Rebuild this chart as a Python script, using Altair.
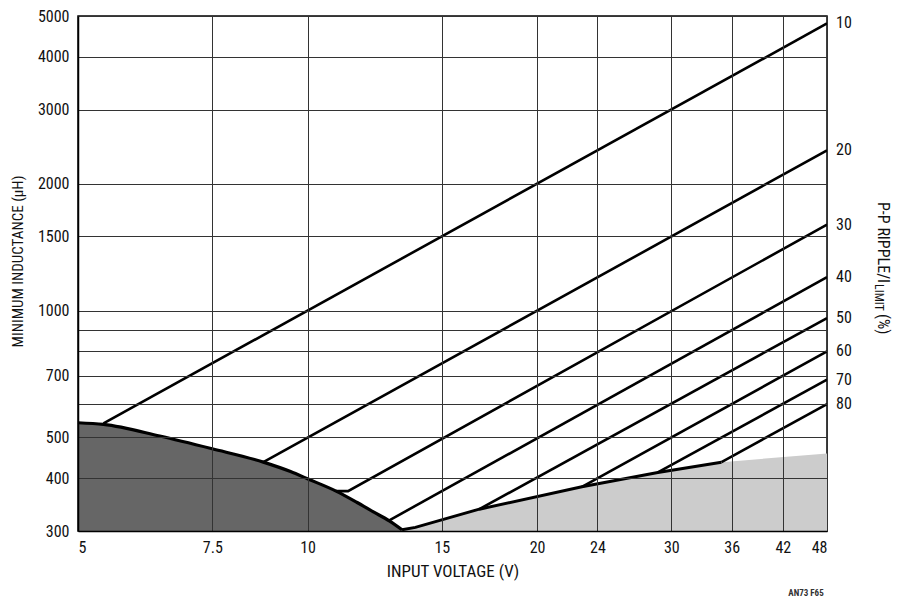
import pandas as pd
import altair as alt

FONT = "Liberation Sans Narrow, Roboto Condensed, Arial Narrow, Liberation Sans, sans-serif"

x_ticks = [5, 7.5, 10, 15, 20, 24, 30, 36, 42, 48]
y_grid = [300, 400, 500, 600, 700, 800, 900, 1000, 1500, 2000, 3000, 4000, 5000]

# dark region: low input voltage limit
dark_v = [5, 5.4, 6.4, 7.5, 8.75, 9.5, 10, 10.9, 11.6, 12.2, 12.8, 13.3]
dark_l = [542, 537, 504, 470, 437, 415, 399, 373, 351, 333, 317, 302]

# light region: upper edge (black edge drawn up to 34.9 V)
light_v = [13.3, 13.85, 16.8, 22.9, 28.8, 34.9, 48]
light_l = [302, 306, 338, 382, 413, 437, 458]

# ripple curves, % of I_LIMIT
ripple = ["10", "20", "30", "40", "50", "60", "70", "80"]
ripple_v = [[5.4, 48], [8.75, 48], [10.9, 11.3, 48], [12.8, 48],
            [16.8, 48], [22.9, 48], [28.8, 48], [34.9, 48]]
ripple_l = [[540, 4800], [437, 2400], [373, 373, 1600], [318, 1200],
            [338, 960], [382, 800], [413, 686], [437, 600]]

rows = []
for name, vs, ls in zip(ripple, ripple_v, ripple_l):
    for i, (v, l) in enumerate(zip(vs, ls)):
        rows.append({"ripple": name, "v": v, "l": l, "i": i})
lines_df = pd.DataFrame(rows)
ends_df = lines_df.groupby("ripple").tail(1)

dark_df = pd.DataFrame({"v": dark_v, "l": dark_l})
light_df = pd.DataFrame({"v": light_v, "l": light_l})
light_edge_df = light_df.iloc[:-1]

xs = alt.Scale(type="log", domain=[5, 48], nice=False)
ys = alt.Scale(type="log", domain=[300, 5000], nice=False)

x_axis = alt.Axis(values=x_ticks, format="~g", title="INPUT VOLTAGE (V)", grid=True,
                  gridColor="#333", gridWidth=1, gridOpacity=1, ticks=False,
                  domainColor="black", domainWidth=1.5, labelPadding=8,
                  titleFontSize=17, titleY=40, titleBaseline="middle", zindex=1)
y_axis = alt.Axis(values=y_grid, format="d", title="MINIMUM INDUCTANCE (µH)", grid=True,
                  labelExpr="indexof([600, 800, 900], datum.value) >= 0 ? '' : datum.label",
                  gridColor="#333", gridWidth=1, gridOpacity=1, ticks=False,
                  domainColor="black", domainWidth=1.5, labelPadding=9,
                  titleFontSize=15, titleX=-61, titleY=245, titleBaseline="middle",
                  zindex=1)

X = alt.X("v:Q", scale=xs, axis=x_axis)
Y = alt.Y("l:Q", scale=ys, axis=y_axis)

dark = alt.Chart(dark_df).mark_area(color="#666666", opacity=1, interpolate="monotone").encode(
    x=X, y=Y, y2=alt.datum(300))
light = alt.Chart(light_df).mark_area(color="#cccccc", opacity=1).encode(
    x=X, y=Y, y2=alt.datum(300))

dark_edge = alt.Chart(dark_df).mark_line(color="black", strokeWidth=3.2, interpolate="monotone").encode(
    x=X, y=Y)
light_edge = alt.Chart(light_edge_df).mark_line(color="black", strokeWidth=3).encode(
    x=X, y=Y)

curves = alt.Chart(lines_df).mark_line(color="black", strokeWidth=2.6).encode(
    x=X, y=Y, detail="ripple:N", order="i:Q")

end_labels = alt.Chart(ends_df).mark_text(
    align="left", baseline="middle", dx=9, fontSize=16, font=FONT, color="#111").encode(
    x=X, y=Y, text="ripple:N")

one = pd.DataFrame({"a": [0]})
r_title1 = alt.Chart(one).mark_text(
    angle=90, align="left", baseline="middle", fontSize=16, font=FONT, color="#111").encode(
    x=alt.value(805), y=alt.value(186), text=alt.value("P-P RIPPLE/I"))
r_title2 = alt.Chart(one).mark_text(
    angle=90, align="left", baseline="middle", fontSize=12, font=FONT, color="#111").encode(
    x=alt.value(801), y=alt.value(268), text=alt.value("LIMIT"))
r_title3 = alt.Chart(one).mark_text(
    angle=90, align="left", baseline="middle", fontSize=16, font=FONT, color="#111").encode(
    x=alt.value(805), y=alt.value(298), text=alt.value("(%)"))
fig_id = alt.Chart(one).mark_text(
    align="center", baseline="middle", fontSize=9, font=FONT, fontWeight="bold", color="#333").encode(
    x=alt.value(728), y=alt.value(577), text=alt.value("AN73 F65"))

chart = alt.layer(
    dark, light, dark_edge, light_edge, curves, end_labels,
    r_title1, r_title2, r_title3, fig_id
).properties(
    width=749, height=515, autosize="none",
    padding={"left": 70, "top": 8, "right": 65, "bottom": 68},
).configure_view(
    stroke="black", strokeWidth=1.5
).configure_axis(
    labelFont=FONT, labelFontSize=16, labelColor="#111",
    titleFont=FONT, titleFontWeight="normal", titleColor="#111",
)

chart.save("out.html", embed_options={"renderer": "svg", "actions": False})
